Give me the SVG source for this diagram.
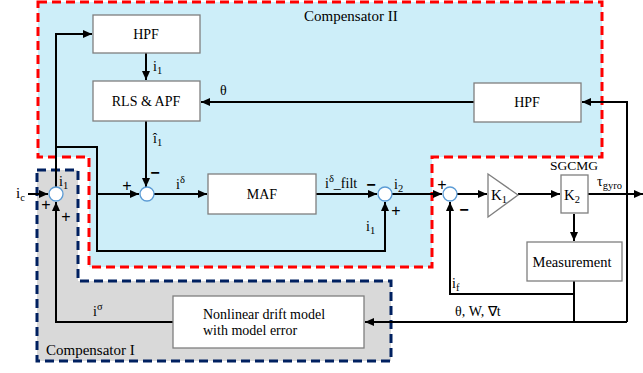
<svg xmlns="http://www.w3.org/2000/svg" width="643" height="373" viewBox="0 0 643 373">
<style>
.t{font-family:'Liberation Serif','Times New Roman',serif;font-size:14px;fill:#000}
.m{text-anchor:middle}
.s{font-size:10.5px}
.box{fill:#fff;stroke:#7f7f7f;stroke-width:1.3}
.sum{fill:#fff;stroke:#5b9bd5;stroke-width:1.3}
.w{fill:none;stroke:#000;stroke-width:2}
.pm{font-family:'Liberation Sans',Arial,sans-serif;font-size:16px;fill:#000;text-anchor:middle}
</style>
<defs>
<marker id="ah" markerUnits="userSpaceOnUse" markerWidth="9" markerHeight="8" refX="9" refY="4" orient="auto">
<path d="M0,0 L9,4 L0,8 z" fill="#000"/>
</marker>
</defs>
<rect width="643" height="373" fill="#fff"/>
<g id="compensator2">
<path d="M38,2 H602 V157 H432 V267 H89 V157 H38 Z" fill="#cdeef9" stroke="#ff0000" stroke-width="3" stroke-dasharray="9,5"/>
<text class="t" font-family="Liberation Serif, serif" x="304" y="21" style="font-size:15px">Compensator II</text>
</g>
<g id="compensator1">
<path d="M37,170 H78 V281 H391 V361 H37 Z" fill="#d9d9d9" stroke="#002060" stroke-width="3" stroke-dasharray="9,5"/>
<text class="t" font-family="Liberation Serif, serif" x="46" y="355" style="font-size:15px">Compensator I</text>
</g>
<g id="connectors">
<path class="w" d="M28,194 H48" marker-end="url(#ah)"/>
<path class="w" d="M56,187 V34 H92" marker-end="url(#ah)"/>
<path class="w" d="M56,147 H97 V251 H385 V202" marker-end="url(#ah)"/>
<path class="w" d="M97,194 H139" marker-end="url(#ah)"/>
<path class="w" d="M146,53 V80" marker-end="url(#ah)"/>
<path class="w" d="M146,121 V187" marker-end="url(#ah)"/>
<path class="w" d="M154,194 H207" marker-end="url(#ah)"/>
<path class="w" d="M316,194 H377" marker-end="url(#ah)"/>
<path class="w" d="M392,194 H442" marker-end="url(#ah)"/>
<path class="w" d="M457,194 H487" marker-end="url(#ah)"/>
<path class="w" d="M518,194 H560" marker-end="url(#ah)"/>
<path class="w" d="M588,194 H643" marker-end="url(#ah)"/>
<path class="w" d="M627,322 V102 H582" marker-end="url(#ah)"/>
<path class="w" d="M474,102 H201" marker-end="url(#ah)"/>
<path class="w" d="M574,214 V241" marker-end="url(#ah)"/>
<path class="w" d="M574,281 V322"/>
<path class="w" d="M574,294 H450 V202" marker-end="url(#ah)"/>
<path class="w" d="M627,322 H365" marker-end="url(#ah)"/>
<path class="w" d="M173,322 H56 V202" marker-end="url(#ah)"/>
</g>
<g font-family="Liberation Serif, serif">
<g id="hpf1">
<rect class="box" x="93" y="15" width="107" height="38"/>
<text class="t m" x="146" y="39">HPF</text>
</g>
<g id="rls">
<rect class="box" x="93" y="81" width="107" height="40"/>
<text class="t m" x="146" y="106">RLS &amp; APF</text>
</g>
<g id="hpf2">
<rect class="box" x="474" y="83" width="107" height="39"/>
<text class="t m" x="527" y="107">HPF</text>
</g>
<g id="maf">
<rect class="box" x="208" y="174" width="108" height="40"/>
<text class="t m" x="262" y="199">MAF</text>
</g>
<g id="drift">
<rect class="box" x="173" y="296" width="191" height="52"/>
<text class="t" x="203" y="319">Nonlinear drift model</text>
<text class="t" x="203" y="335">with model error</text>
</g>
<g id="measurement">
<rect class="box" x="527" y="242" width="95" height="39"/>
<text class="t m" x="572" y="267" style="font-size:14.5px">Measurement</text>
</g>
<g id="k1">
<path d="M488,174 L518,195 L488,217 Z" fill="#fff" stroke="#7f7f7f" stroke-width="1.3"/>
<text class="t" x="491" y="200" style="font-size:15px">K<tspan class="s" dy="3">1</tspan></text>
</g>
<g id="k2">
<rect class="box" x="561" y="175" width="27" height="38"/>
<text class="t m" x="574" y="170" style="font-size:13.5px">SGCMG</text>
<text class="t" x="564" y="200" style="font-size:15px">K<tspan class="s" dy="3">2</tspan></text>
</g>
<g id="sum1">
<circle class="sum" cx="56" cy="194" r="7"/>
<text class="t" x="59" y="186">i<tspan class="s" dy="3">1</tspan></text>
<text class="pm" x="46" y="210">+</text>
<text class="pm" x="66" y="222">+</text>
</g>
<g id="sum2">
<circle class="sum" cx="147" cy="194" r="7"/>
<text class="pm" x="127" y="191">+</text>
<text class="pm" x="155" y="178" style="font-weight:bold">−</text>
</g>
<g id="sum3">
<circle class="sum" cx="385" cy="194" r="7"/>
<text class="pm" x="371" y="190" style="font-weight:bold">−</text>
<text class="pm" x="396" y="216">+</text>
</g>
<g id="sum4">
<circle class="sum" cx="450" cy="194" r="7"/>
<text class="pm" x="442" y="190">+</text>
<text class="pm" x="464" y="215" style="font-weight:bold">−</text>
</g>
<g id="labels">
<text class="t" x="16" y="198" style="font-size:15px">i<tspan class="s" dy="3">c</tspan></text>
<text class="t" x="153" y="71">i<tspan class="s" dy="3">1</tspan></text>
<text class="t" x="153" y="143">î<tspan class="s" dy="3">1</tspan></text>
<text class="t" x="220" y="95">θ</text>
<text class="t" x="176" y="189">i<tspan class="s" dy="-6">δ</tspan></text>
<text class="t" x="325" y="188">i<tspan class="s" dy="-6">δ</tspan><tspan dy="6">_filt</tspan></text>
<text class="t" x="394" y="189">i<tspan class="s" dy="3">2</tspan></text>
<text class="t" x="366" y="231">i<tspan class="s" dy="3">1</tspan></text>
<text class="t" x="597" y="186">τ<tspan class="s" dy="3">gyro</tspan></text>
<text class="t" x="452" y="288">i<tspan class="s" dy="3">f</tspan></text>
<text class="t" x="455" y="316">θ, W, ∇t</text>
<text class="t" x="93" y="316">i<tspan class="s" dy="-6">σ</tspan></text>
</g>
</g>
</svg>
